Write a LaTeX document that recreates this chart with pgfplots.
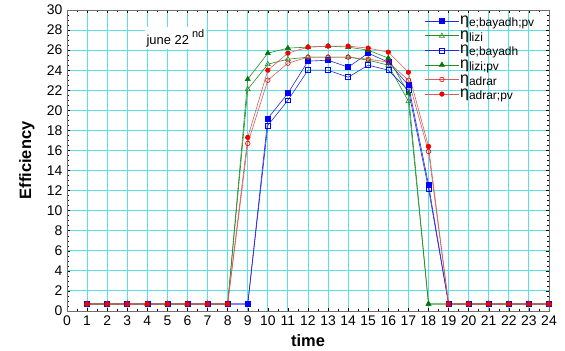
\documentclass[border=0pt]{standalone}
\usepackage{pgfplots}
\pgfplotsset{compat=1.18}
\usepackage{pgfplotstable}
\usepackage{fontspec}
\setmainfont{Liberation Sans}

\definecolor{gridcyan}{RGB}{90,225,225}
\definecolor{axgray}{RGB}{110,110,110}
\definecolor{ptblue}{RGB}{0,0,255}
\definecolor{lnblue}{RGB}{40,40,220}
\definecolor{ptgreen}{RGB}{0,120,0}
\definecolor{lngreen}{RGB}{40,140,40}
\definecolor{ptred}{RGB}{240,0,0}
\definecolor{lnred}{RGB}{220,90,90}

% hourly efficiency, June 22
\pgfplotstableread{
t  bpv   lizi  bay   lizipv adrar adrarpv
1  0.7   0.7   0.7   0.7    0.7   0.7
2  0.7   0.7   0.7   0.7    0.7   0.7
3  0.7   0.7   0.7   0.7    0.7   0.7
4  0.7   0.7   0.7   0.7    0.7   0.7
5  0.7   0.7   0.7   0.7    0.7   0.7
6  0.7   0.7   0.7   0.7    0.7   0.7
7  0.7   0.7   0.7   0.7    0.7   0.7
8  0.7   0.7   0.7   0.7    0.7   0.7
9  0.7   22.1  0.7   23.1   16.7  17.3
10 19.2  24.6  18.5  25.7   23.0  24.0
11 21.7  25.1  21.0  26.2   24.7  25.7
12 24.9  25.3  24.0  26.3   25.3  26.3
13 25.0  25.3  24.0  26.4   25.3  26.4
14 24.3  25.3  23.3  26.3   25.3  26.4
15 25.7  25.0  24.5  26.0   25.1  26.2
16 24.8  24.5  24.0  25.2   24.8  25.8
17 22.5  20.9  22.0  21.7   23.0  23.8
18 12.6  0.7   12.2  0.7    15.9  16.4
19 0.7   0.7   0.7   0.7    0.7   0.7
20 0.7   0.7   0.7   0.7    0.7   0.7
21 0.7   0.7   0.7   0.7    0.7   0.7
22 0.7   0.7   0.7   0.7    0.7   0.7
23 0.7   0.7   0.7   0.7    0.7   0.7
24 0.7   0.7   0.7   0.7    0.7   0.7
}\effdata

\newcommand{\etalab}[1]{{\fontsize{16}{16}\selectfont η}\raisebox{-2pt}{\fontsize{12}{12}\selectfont #1}}

\begin{document}
\begin{tikzpicture}
\useasboundingbox (-67bp,-40bp) rectangle (498bp,311bp);
\begin{axis}[
  at={(0,0)}, anchor=south west,
  scale only axis,
  width=482bp, height=301bp,
  xmin=0, xmax=24, ymin=0, ymax=30,
  xtick={0,1,...,24}, ytick={0,2,...,30},
  minor x tick num=1, minor y tick num=3,
  tick align=inside,
  major tick length=3pt, minor tick length=1.8pt,
  axis line style={axgray, line width=0.9pt},
  every tick/.style={black, line width=0.5pt},
  grid=major,
  major grid style={gridcyan, line width=0.9pt},
  tick label style={font=\fontsize{14}{14}\selectfont},
  /pgf/number format/assume math mode=true,
  xticklabel style={yshift=-1pt},
  yticklabel style={xshift=-1pt},
  xlabel={\bfseries time}, ylabel={\bfseries Efficiency},
  xlabel style={font=\fontsize{16.5}{16.5}\selectfont,
    at={(axis description cs:0.5,-0.097)}, anchor=center},
  ylabel style={font=\fontsize{16.5}{16.5}\selectfont,
    at={(axis description cs:-0.083,0.5)}, anchor=center},
  legend style={at={(0.978,0.99)}, anchor=north east, draw=none, fill=none,
    row sep=2.5bp, nodes={inner sep=1pt}},
  legend cell align=left,
  legend image code/.code={
    \draw[#1, mark repeat=2, mark phase=2] plot coordinates {(0bp,0bp) (17bp,0bp) (34bp,0bp)};},
]
\addplot[lnblue, line width=0.6pt, mark=square*, mark size=2.5pt,
  mark options={ptblue, fill=ptblue}] table[x=t, y=bpv] {\effdata};
\addlegendentry{\etalab{e;bayadh;pv}}
\addplot[lngreen, line width=0.6pt, mark=triangle, mark size=2.9pt,
  mark options={lngreen, fill=white}] table[x=t, y=lizi] {\effdata};
\addlegendentry{\etalab{lizi}}
\addplot[lnblue, line width=0.6pt, mark=square, mark size=2.5pt,
  mark options={ptblue, fill=white}] table[x=t, y=bay] {\effdata};
\addlegendentry{\etalab{e;bayadh}}
\addplot[lngreen, line width=0.6pt, mark=triangle*, mark size=2.9pt,
  mark options={ptgreen, fill=ptgreen}] table[x=t, y=lizipv] {\effdata};
\addlegendentry{\etalab{lizi;pv}}
\addplot[lnred, line width=0.6pt, mark=o, mark size=2.3pt,
  mark options={ptred, fill=white}] table[x=t, y=adrar] {\effdata};
\addlegendentry{\etalab{adrar}}
\addplot[lnred, line width=0.6pt, mark=*, mark size=2.3pt,
  mark options={ptred, fill=ptred}] table[x=t, y=adrarpv] {\effdata};
\addlegendentry{\etalab{adrar;pv}}
\node[anchor=west, fill=white, inner sep=2pt, font=\fontsize{13}{13}\selectfont]
  at (axis cs:3.85,27.2) {june 22\raisebox{7pt}{\fontsize{11}{11}\selectfont\ nd}};
\end{axis}
\end{tikzpicture}
\end{document}
